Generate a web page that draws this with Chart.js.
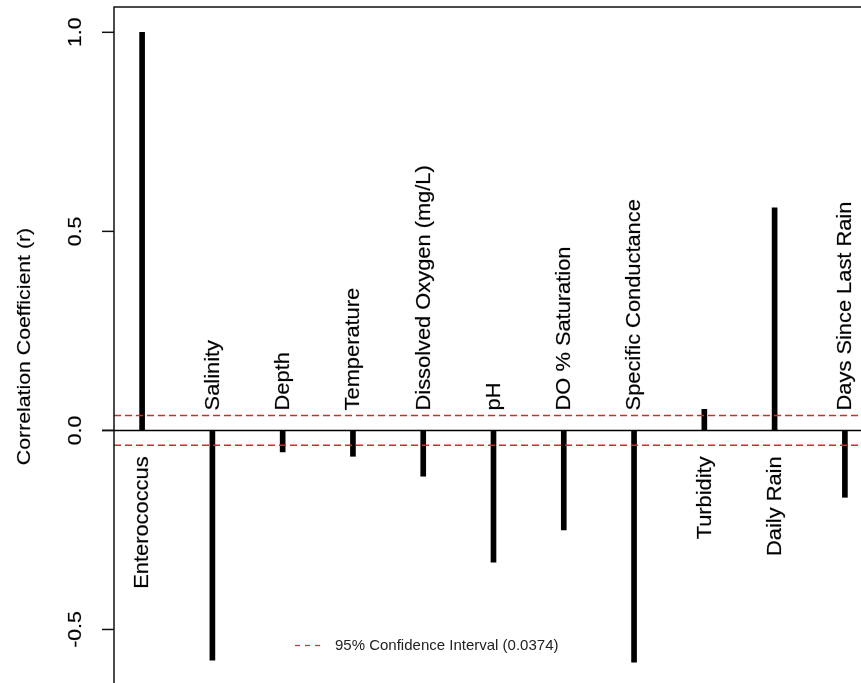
<!DOCTYPE html>
<html lang="en">
  <head>
    <meta charset="UTF-8" />
    <title>Correlation Coefficients</title>
    <script src="https://cdn.jsdelivr.net/npm/chart.js"></script>
    <style>
      html, body { margin: 0; padding: 0; overflow: hidden; background: #fff; }
    </style>
  </head>
  <body>
    <canvas id="corrChart" width="880" height="690"></canvas>

    <script>
      // Data
      const categories = [
        "Enterococcus", "Salinity", "Depth", "Temperature",
        "Dissolved Oxygen (mg/L)", "pH", "DO % Saturation",
        "Specific Conductance", "Turbidity", "Daily Rain",
        "Days Since Last Rain"
      ];
      const correlations = [1.0, -0.577, -0.054, -0.065, -0.115, -0.331, -0.25, -0.582, 0.053, 0.559, -0.168];
      const yTicks = [1.0, 0.5, 0.0, -0.5];
      const yTickLabels = ["1.0", "0.5", "0.0", "-0.5"];
      const ciValue = 0.0374;
      const ciLabel = "95% Confidence Interval (0.0374)";
      const yTitle = "Correlation Coefficient (r)";

      const FONT = '"Liberation Sans", Arial, sans-serif';
      const CI_COLOR = "#d42a2a";
      const STRETCH = 1.12; // rotated text looks taller than wide in the source

      function rotText(ctx, text, x, y, align, size) {
        ctx.save();
        ctx.translate(x, y);
        ctx.rotate(-Math.PI / 2);
        ctx.scale(STRETCH, 1);
        ctx.font = size + "px " + FONT;
        ctx.textAlign = align;
        ctx.textBaseline = "middle";
        ctx.fillStyle = "#000";
        ctx.strokeStyle = "rgba(0,0,0,0.35)";
        ctx.lineWidth = 0.5;
        ctx.fillText(text, 0, 0);
        ctx.strokeText(text, 0, 0);
        ctx.restore();
      }

      const decorations = {
        id: "decorations",
        beforeDatasetsDraw(chart) {
          const ctx = chart.ctx;
          const area = chart.chartArea;
          const ys = chart.scales.y;
          const y0 = ys.getPixelForValue(0);
          ctx.save();
          ctx.strokeStyle = "#000";
          ctx.lineWidth = 1.5;
          ctx.beginPath();
          ctx.moveTo(102, y0);
          ctx.lineTo(area.right, y0);
          ctx.stroke();
          ctx.restore();
        },
        afterDraw(chart) {
          const ctx = chart.ctx;
          const area = chart.chartArea;
          const xs = chart.scales.x;
          const ys = chart.scales.y;
          const y0 = ys.getPixelForValue(0);

          ctx.save();
          // frame
          ctx.strokeStyle = "#111";
          ctx.lineWidth = 1.5;
          ctx.strokeRect(area.left, area.top, area.right - area.left, area.bottom - area.top);

          // y ticks and labels
          yTicks.forEach((v, i) => {
            const py = ys.getPixelForValue(v);
            ctx.beginPath();
            ctx.moveTo(area.left - 12, py);
            ctx.lineTo(area.left, py);
            ctx.stroke();
            rotText(ctx, yTickLabels[i], 76, py, "center", 19);
          });

          // y title
          rotText(ctx, yTitle, 25, (area.top + area.bottom) / 2, "center", 19);

          // category labels
          categories.forEach((c, i) => {
            const px = xs.getPixelForValue(i + 1);
            if (correlations[i] < 0) {
              rotText(ctx, c, px + 1, y0 - 20, "left", 19.5);
            } else {
              rotText(ctx, c, px + 1, y0 + 26, "right", 19.5);
            }
          });

          // legend
          ctx.strokeStyle = CI_COLOR;
          ctx.lineWidth = 1.2;
          ctx.setLineDash([5, 5]);
          ctx.beginPath();
          ctx.moveTo(295, 645.5);
          ctx.lineTo(325, 645.5);
          ctx.stroke();
          ctx.setLineDash([]);
          ctx.fillStyle = "#222";
          ctx.font = "15px " + FONT;
          ctx.textAlign = "left";
          ctx.textBaseline = "middle";
          ctx.fillText(ciLabel, 335, 646);
          ctx.restore();
        }
      };

      const ctx = document.getElementById("corrChart").getContext("2d");
      const xMin = 0.6, xMax = 11.4;

      new Chart(ctx, {
        type: "bar",
        data: {
          datasets: [
            {
              type: "bar",
              label: "r",
              data: correlations.map((v, i) => ({ x: i + 1, y: v })),
              backgroundColor: "#000",
              barThickness: 5,
              order: 2,
            },
            {
              type: "line",
              label: ciLabel,
              data: [{ x: xMin, y: ciValue }, { x: xMax, y: ciValue }],
              borderColor: CI_COLOR,
              borderWidth: 1.5,
              borderDash: [7, 4],
              pointRadius: 0,
              fill: false,
              order: 1,
            },
            {
              type: "line",
              label: "lower",
              data: [{ x: xMin, y: -ciValue }, { x: xMax, y: -ciValue }],
              borderColor: CI_COLOR,
              borderWidth: 1.5,
              borderDash: [7, 4],
              pointRadius: 0,
              fill: false,
              order: 1,
            },
          ],
        },
        options: {
          responsive: false,
          animation: false,
          layout: { padding: { left: 114, top: 7, right: 7, bottom: 4 } },
          plugins: { legend: { display: false }, tooltip: { enabled: false } },
          scales: {
            x: { type: "linear", min: xMin, max: xMax, offset: false, display: false },
            y: { min: -0.642, max: 1.0636, display: false },
          },
        },
        plugins: [decorations],
      });
    </script>
  </body>
</html>
